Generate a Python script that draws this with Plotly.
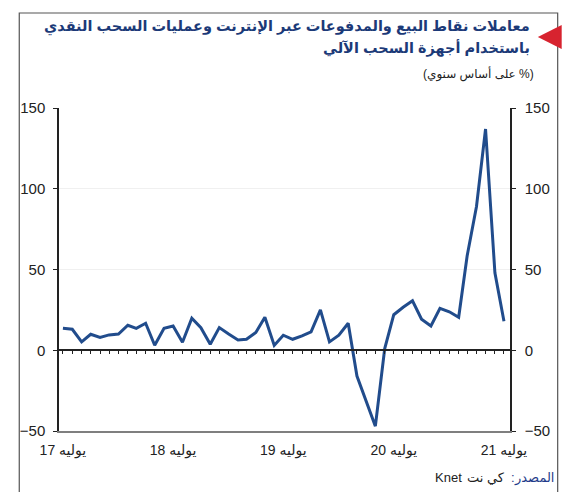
import plotly.graph_objects as go
import pandas as pd

# ---- data ----
months = pd.date_range("2017-07-01", periods=49, freq="MS")
values = [13.6, 13.0, 5.2, 9.9, 7.9, 9.5, 10.0, 15.5, 13.6, 16.7, 3.1, 13.6,
          15.0, 5.0, 19.8, 14.0, 3.7, 14.0, 10.0, 6.4, 6.8, 11.0, 20.4, 3.0,
          9.3, 6.8, 8.9, 11.4, 25.0, 5.2, 9.3, 16.7, -16.0, -32.0, -47.0, 1.0,
          22.0, 26.6, 30.6, 19.2, 15.0, 26.0, 23.8, 20.4, 58.4, 89.0, 137.0, 48.0, 18.0]
tick_dates = ["2017-07-01", "2018-07-01", "2019-07-01", "2020-07-01", "2021-07-01"]
tick_text = ["يوليه 17", "يوليه 18", "يوليه 19", "يوليه 20", "يوليه 21"]
y_ticks = [-50, 0, 50, 100, 150]

title1 = "معاملات نقاط البيع والمدفوعات عبر الإنترنت وعمليات السحب النقدي"
title2 = "باستخدام أجهزة السحب الآلي"
subtitle = "(على أساس سنوي %)"
source_word = "المصدر"
source_colon = ":"
source_name_ar = "كي نت"
source_name_en = "Knet"

# page body has an 8px margin: size the figure so it fits the 586x492 window
OFF = 8
W, H = 586 - OFF, 492 - OFF
# plot area in window pixels
L, R, T, B = 56, 510, 108, 431


def px(x):
    return (x - L) / (R - L)


def py(y):
    return (B - y) / (B - T)


x_range = ["2017-06-18", "2021-07-21"]
font = "Arial, DejaVu Sans, sans-serif"

fig = go.Figure()
fig.add_trace(go.Scatter(x=months, y=values, mode="lines",
                         line=dict(color="#214c8c", width=3),
                         showlegend=False, hoverinfo="skip"))
# helper traces so that the overlay axes get drawn
fig.add_trace(go.Scatter(x=[months[0]], y=[None], xaxis="x2", yaxis="y",
                         showlegend=False, hoverinfo="skip"))
fig.add_trace(go.Scatter(x=[months[0]], y=[None], xaxis="x", yaxis="y2",
                         showlegend=False, hoverinfo="skip"))

fig.update_layout(
    width=W, height=H,
    margin=dict(l=L - OFF, r=586 - R, t=T - OFF, b=492 - B),
    paper_bgcolor="white", plot_bgcolor="white",
    font=dict(family=font, color="#222222"),
    xaxis=dict(type="date", range=x_range, tickvals=tick_dates, ticktext=tick_text,
               showline=True, linecolor="#7f7f7f", linewidth=2, showgrid=False,
               zeroline=False, ticks="outside", ticklen=5, tickcolor="rgba(0,0,0,0)",
               tickfont=dict(size=14, color="#222222")),
    xaxis2=dict(type="date", range=x_range, overlaying="x", anchor="free",
                position=0.25, side="bottom", showline=True, linecolor="#222222",
                linewidth=1.5, ticks="outside", ticklen=3, tickcolor="#222222",
                tickwidth=1, dtick="M1", tick0="2017-07-01", showticklabels=False,
                showgrid=False, zeroline=False),
    yaxis=dict(range=[-50, 150], tickvals=y_ticks, showline=True, linecolor="#222222",
               linewidth=1.5, ticks="outside", ticklen=4, tickcolor="#222222",
               showgrid=True, gridcolor="#f0f0f0", zeroline=False,
               ticklabelstandoff=5, tickfont=dict(size=15, color="#222222")),
    yaxis2=dict(range=[-50, 150], tickvals=y_ticks, overlaying="y", side="right",
                showline=True, linecolor="#222222", linewidth=1.5, ticks="outside",
                ticklen=4, tickcolor="#222222", showgrid=False, zeroline=False,
                ticklabelstandoff=6, tickfont=dict(size=15, color="#222222")),
)

# frame
fig.add_shape(type="rect", xref="paper", yref="paper",
              x0=px(16), x1=px(558), y0=py(505), y1=py(13),
              line=dict(color="#555555", width=1.2), fillcolor="rgba(0,0,0,0)")
# red triangle marker
fig.add_shape(type="path", xref="paper", yref="paper",
              path=f"M {px(538)} {py(37)} L {px(562)} {py(25)} L {px(562)} {py(49)} Z",
              line=dict(width=0), fillcolor="#d7232f")

anns = [
    dict(text=f"<b>{title1}</b>", x=px(532), y=py(27), size=14.5, color="#1c3a78", anchor="right"),
    dict(text=f"<b>{title2}</b>", x=px(532), y=py(48), size=14.5, color="#1c3a78", anchor="right"),
    dict(text=subtitle, x=px(536), y=py(74), size=12, color="#222222", anchor="right"),
    dict(text=source_word, x=px(556), y=py(478), size=13, color="#1f3c8a", anchor="right"),
    dict(text=source_colon, x=px(509), y=py(478), size=13, color="#1f3c8a", anchor="left"),
    dict(text=source_name_ar, x=px(507), y=py(478), size=13, color="#222222", anchor="right"),
    dict(text=source_name_en, x=px(464), y=py(478), size=13, color="#222222", anchor="right"),
]
for a in anns:
    fig.add_annotation(text=a["text"], x=a["x"], y=a["y"], xref="paper", yref="paper",
                       xanchor=a["anchor"], yanchor="middle", showarrow=False,
                       font=dict(size=a["size"], color=a["color"], family=font))

fig.write_html("out.html")
